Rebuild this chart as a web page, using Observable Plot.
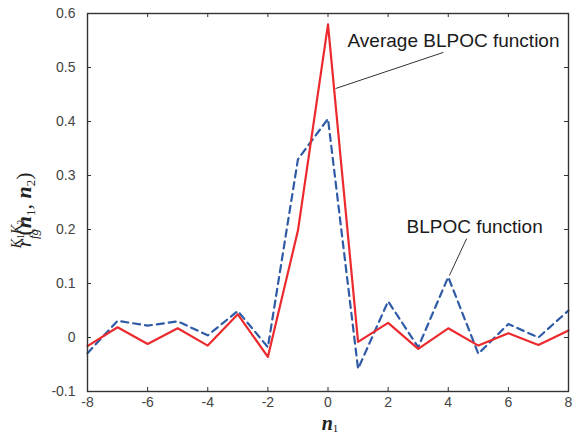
<!DOCTYPE html>
<html>
<head>
<meta charset="utf-8">
<script src="https://cdn.jsdelivr.net/npm/d3@7"></script>
<script src="https://cdn.jsdelivr.net/npm/@observablehq/plot@0.6"></script>
<style>
  html, body { margin: 0; padding: 0; background: #fff; }
  #chart svg { display: block; background: #fff; }
</style>
</head>
<body>
<div id="chart"></div>
<script>
// ---- data ----
const n1 = [-8, -7, -6, -5, -4, -3, -2, -1, 0, 1, 2, 3, 4, 5, 6, 7, 8];
const averageBLPOC = [-0.016, 0.019, -0.012, 0.017, -0.015, 0.043, -0.036, 0.198, 0.58, -0.008, 0.027, -0.021, 0.017, -0.015, 0.008, -0.014, 0.013];
const blpoc = [-0.029, 0.031, 0.022, 0.030, 0.004, 0.049, -0.018, 0.33, 0.405, -0.058, 0.067, -0.018, 0.112, -0.030, 0.025, 0.0, 0.05];
const xTicks = [-8, -6, -4, -2, 0, 2, 4, 6, 8];
const yTicks = [-0.1, 0, 0.1, 0.2, 0.3, 0.4, 0.5, 0.6];
const labelNames = ["Average BLPOC function", "BLPOC function"];
const labelAt = [[0.65, 0.550], [2.61, 0.204]];
const leaderFrom = [[3.84, 0.528], [4.61, 0.183]];
const leaderTo = [[0.25, 0.461], [4.04, 0.115]];

// ---- tables built from the arrays ----
const avgRows = n1.map((n, i) => ({n, v: averageBLPOC[i]}));
const blRows = n1.map((n, i) => ({n, v: blpoc[i]}));
const labels = labelNames.map((t, i) => ({t, x: labelAt[i][0], y: labelAt[i][1]}));
const leaders = labelNames.map((t, i) => ({x1: leaderFrom[i][0], y1: leaderFrom[i][1], x2: leaderTo[i][0], y2: leaderTo[i][1]}));

const W = 576, H = 434;
const mL = 87, mR = 8, mT = 13, mB = 43;
const frameH = H - mT - mB, frameW = W - mL - mR;
const tk = 4;

const svg = Plot.plot({
  width: W,
  height: H,
  marginLeft: mL,
  marginRight: mR,
  marginTop: mT,
  marginBottom: mB,
  style: {fontFamily: "'Liberation Sans', Arial, sans-serif", fontSize: "14px", background: "#fff"},
  x: {domain: [-8, 8]},
  y: {domain: [-0.1, 0.6]},
  marks: [
    Plot.line(blRows, {x: "n", y: "v", stroke: "#2f5ba6", strokeWidth: 2.2, strokeDasharray: "7,5"}),
    Plot.line(avgRows, {x: "n", y: "v", stroke: "#ec2a2e", strokeWidth: 2.2}),
    Plot.link(leaders, {x1: "x1", y1: "y1", x2: "x2", y2: "y2", stroke: "#333", strokeWidth: 1}),
    Plot.text(labels, {x: "x", y: "y", text: "t", textAnchor: "start", fontSize: 19, fill: "#1a1a1a", fontFamily: "'Liberation Sans', Arial, sans-serif"}),
    // inward ticks on all four sides
    Plot.tickX(xTicks, {x: d => d, insetTop: frameH - tk, stroke: "#333"}),
    Plot.tickX(xTicks, {x: d => d, insetBottom: frameH - tk, stroke: "#333"}),
    Plot.tickY(yTicks, {y: d => d, insetRight: frameW - tk, stroke: "#333"}),
    Plot.tickY(yTicks, {y: d => d, insetLeft: frameW - tk, stroke: "#333"}),
    Plot.axisX(xTicks, {tickSize: 0, tickPadding: 6, tickFormat: d => String(d), fill: "#444", fontSize: 14, label: null}),
    Plot.axisY(yTicks, {tickSize: 0, tickPadding: 12, tickFormat: d => String(d), fill: "#444", fontSize: 14, label: null}),
    Plot.frame({stroke: "#333", strokeWidth: 1.4})
  ]
});

document.getElementById("chart").appendChild(svg);

// axis titles (math-style)
const s = d3.select(svg);
const serif = "'Liberation Serif', 'Times New Roman', serif";

const yl = s.append("g").attr("transform", "translate(31,192) rotate(-90)")
  .attr("font-family", serif).attr("fill", "#222");
// main r
yl.append("text").attr("x", -51).attr("y", 0).attr("font-size", 22).attr("font-style", "italic").text("r");
// subscript fg
yl.append("text").attr("x", -42).attr("y", 7).attr("font-size", 13).attr("font-style", "italic").text("fg");
// superscript K1K2
const sup = yl.append("text").attr("x", -42).attr("y", -10).attr("font-size", 14).attr("font-style", "italic");
sup.append("tspan").text("K");
sup.append("tspan").attr("dy", 3).attr("font-size", 10).attr("font-style", "normal").text("1");
sup.append("tspan").attr("dy", -3).text("K");
sup.append("tspan").attr("dy", 3).attr("font-size", 10).attr("font-style", "normal").text("2");
// (n1, n2)
const args = yl.append("text").attr("x", -12).attr("y", 0).attr("font-size", 22);
args.append("tspan").text("(");
args.append("tspan").attr("font-style", "italic").attr("font-weight", "bold").text("n");
args.append("tspan").attr("dy", 4).attr("font-size", 13).text("1");
args.append("tspan").attr("dy", -4).text(", ");
args.append("tspan").attr("font-style", "italic").attr("font-weight", "bold").text("n");
args.append("tspan").attr("dy", 4).attr("font-size", 13).text("2");
args.append("tspan").attr("dy", -4).text(")");

const xl = s.append("text")
  .attr("x", 330).attr("y", 430)
  .attr("text-anchor", "middle")
  .attr("font-family", serif)
  .attr("fill", "#222")
  .attr("font-size", 20);
xl.append("tspan").attr("font-style", "italic").attr("font-weight", "bold").text("n");
xl.append("tspan").attr("dy", 1.5).attr("font-size", 11).text("1");
</script>
</body>
</html>
